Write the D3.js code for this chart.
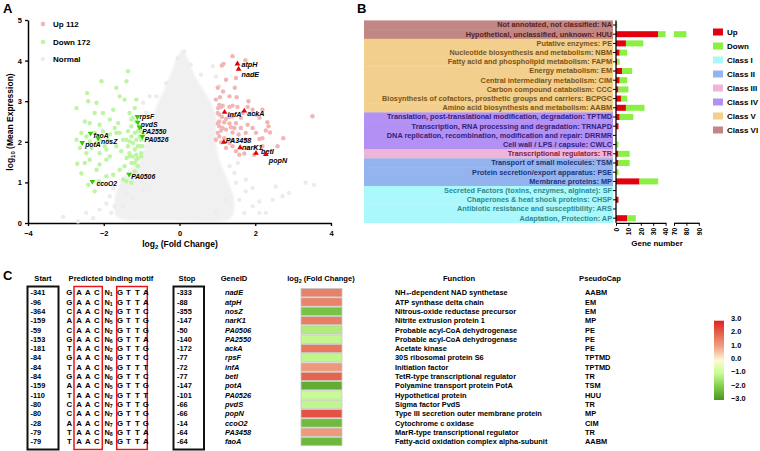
<!DOCTYPE html>
<html><head><meta charset="utf-8">
<script src="https://cdn.jsdelivr.net/npm/d3@7"></script>
<style>
body{margin:0;background:#fff}
svg{display:block;font-family:"Liberation Sans",Arial,sans-serif;font-weight:bold}
</style>
</head><body><svg id="c" width="760" height="451"></svg>
<script>
// ---------------- Panel A data (log2 FC, log10 mean expression) ----------------
const upPoints = [[1.40,4.11],[1.16,3.92],[1.12,3.88],[1.74,4.01],[1.49,3.57],[1.23,3.53],[1.01,3.33],[1.46,3.33],[1.15,3.24],[1.32,3.12],[1.51,3.10],[1.05,2.91],[1.09,2.86],[1.14,2.89],[1.02,2.83],[1.40,2.89],[1.53,2.86],[1.80,2.86],[1.93,2.79],[2.19,2.79],[1.82,3.00],[1.05,2.67],[1.12,2.61],[1.32,2.61],[1.40,2.63],[1.62,2.59],[2.11,2.59],[1.05,2.50],[1.18,2.48],[1.32,2.45],[1.49,2.46],[1.80,2.42],[2.32,2.48],[2.35,2.38],[1.05,2.38],[1.14,2.34],[1.23,2.30],[1.36,2.36],[1.62,2.34],[1.93,2.34],[2.28,2.28],[2.39,2.23],[1.10,2.28],[1.40,2.23],[1.75,2.22],[1.05,2.13],[1.18,2.09],[1.40,2.05],[1.75,2.05],[2.11,2.07],[2.74,2.09],[1.32,1.97],[1.40,1.89],[1.80,1.85],[2.00,1.87],[2.19,1.89],[1.71,1.71],[1.97,1.68],[3.51,2.63],[2.19,2.09],[0.96,3.04],[1.07,3.10],[1.01,2.71],[1.10,1.99],[1.23,1.85],[1.49,1.77],[1.58,1.68],[1.01,2.45],[2.02,2.67],[1.32,2.86],[1.67,2.71],[1.56,2.18],[2.02,2.22],[1.23,2.56],[1.01,2.22],[0.96,2.05],[1.45,2.34],[2.59,1.89]];
const downPoints = [[-2.72,2.83],[-2.44,3.20],[-2.41,3.00],[-2.06,3.49],[-2.19,2.96],[-1.67,3.33],[-1.36,3.74],[-1.40,3.49],[-1.58,3.12],[-1.75,2.79],[-2.02,2.71],[-2.24,2.71],[-2.50,2.50],[-2.37,2.46],[-2.11,2.42],[-1.84,2.55],[-1.62,2.46],[-2.59,2.22],[-2.46,2.13],[-2.02,2.26],[-1.84,2.18],[-1.67,2.22],[-2.19,1.97],[-1.97,1.89],[-2.32,1.85],[-2.46,1.72],[-2.11,1.72],[-1.93,1.81],[-2.50,1.48],[-2.37,1.56],[-2.11,1.44],[-1.84,1.64],[-1.67,1.89],[-1.54,1.77],[-1.40,2.05],[-1.36,2.26],[-1.27,2.38],[-1.23,2.59],[-1.32,2.71],[-1.18,2.83],[-1.14,3.04],[-1.45,3.04],[-1.45,1.40],[-1.32,1.64],[-1.18,1.81],[-1.14,2.05],[-1.23,1.97],[-1.27,1.48],[-1.14,1.56],[-1.05,1.89],[-1.01,1.72],[-1.10,1.40],[-1.18,1.27],[-1.58,1.31],[-1.75,1.19],[-1.93,1.15],[-2.19,1.31],[-2.41,0.94],[-2.24,0.78],[-2.13,1.03],[-2.70,1.46],[-2.59,1.22],[-1.40,1.03],[-1.49,1.07],[-1.27,0.99],[-1.18,2.22],[-1.10,2.26],[-1.05,2.13],[-1.01,2.05],[-0.98,1.89],[-1.01,1.64],[-1.14,1.68],[-1.32,1.72],[-1.36,1.89],[-1.49,2.05],[-1.58,2.22],[-1.71,2.34],[-1.89,2.05],[-2.24,2.22],[-2.37,2.01],[-2.11,2.05],[-1.93,1.56],[-1.27,2.13],[-1.23,1.64],[-1.10,1.89],[-1.18,1.48],[-1.05,2.38],[-1.14,2.50],[-1.27,2.55],[-1.01,2.26],[-1.32,2.01],[-1.40,1.60],[-1.10,1.60],[-0.96,2.18],[-2.72,2.05],[-2.63,1.85]];
const normalPoints = [[-3.07,0.15],[-2.68,0.04],[-2.46,0.25],[-2.11,0.33],[-1.93,0.48],[-1.80,0.25],[-2.28,0.12],[-1.84,0.66],[-1.75,0.86],[-1.71,0.41],[-1.23,0.62],[-0.96,0.82],[1.58,0.57],[1.71,0.25],[1.93,0.41],[2.11,0.53],[2.28,0.25],[2.46,0.57],[2.72,0.66],[2.89,0.74],[3.33,0.99],[3.55,0.94],[1.93,0.86],[1.75,0.78],[1.49,0.99],[1.45,1.23],[1.32,1.40],[1.54,1.48],[0.88,3.86],[0.57,3.65],[-0.35,3.45],[-0.61,3.12],[-0.88,2.71],[-1.40,0.74],[-1.49,0.41],[0.96,3.61],[1.05,3.37],[-0.96,2.96],[-0.79,3.12],[-1.10,1.23],[-1.01,1.03],[1.23,0.57],[0.96,0.25],[2.11,0.25],[1.75,1.07],[2.54,0.90],[0.12,4.22],[-0.05,4.05],[0.30,3.90]];
const normalCore = [[-1.67,0.16],[-1.71,0.57],[-1.62,0.90],[-1.40,1.23],[-1.05,1.56],[-0.88,2.05],[-0.75,2.46],[-0.61,2.87],[-0.44,3.20],[-0.26,3.61],[-0.09,4.02],[0.07,4.27],[0.19,4.11],[0.33,3.78],[0.48,3.49],[0.66,3.24],[0.83,2.96],[0.96,2.63],[0.96,2.05],[1.05,1.56],[1.23,1.15],[1.40,0.74],[1.45,0.33],[1.32,0.10],[-0.35,0.06],[-1.40,0.08]];
const hlGenes = ["atpH","nadE","infA","ackA","PA3458","narK1","betI","popN","rpsF","pvdS","PA2550","PA0526","PA0506","ccoO2","faoA","nosZ","potA"];
const hlFC =    [1.53,1.56,1.19,1.71,1.17,1.60,2.02,2.28,-1.11,-1.10,-1.06,-0.98,-1.33,-2.30,-2.35,-2.15,-2.57];
const hlMean =  [3.92,3.79,2.73,2.76,1.99,1.86,1.72,1.69,2.62,2.48,2.36,2.13,1.20,1.02,2.21,2.09,1.98];
const legendA = ["Up 112","Down 172","Normal"];
const xTicksA = [-4,-2,0,2,4];
const yTicksA = [0,1,2,3,4,5];

// ---------------- Panel B data ----------------
const catsB = ["Not annotated, not classified: NA","Hypothetical, unclassified, unknown: HUU","Putative enzymes: PE","Nucleotide biosynthesis and metabolism: NBM","Fatty acid and phospholipid metabolism: FAPM","Energy metabolism: EM","Central intermediary metabolism: CIM","Carbon compound catabolism: CCC","Biosynthesis of cofactors, prosthetic groups and carriers: BCPGC","Amino acid biosynthesis and metabolism: AABM","Translation, post-translational modification, degradation: TPTMD","Transcription, RNA processing and degradation: TRNAPD","DNA replication, recombination, modification and repair: DRRMR","Cell wall / LPS / capsule: CWLC","Transcriptional regulators: TR","Transport of small molecules: TSM","Protein secretion/export apparatus: PSE","Membrane proteins: MP","Secreted Factors (toxins, enzymes, alginate): SF","Chaperones & heat shock proteins: CHSP","Antibiotic resistance and susceptibility: ARS","Adaptation, Protection: AP"];
const classB = ["VI","VI","V","V","V","V","V","V","V","V","IV","IV","IV","IV","III","II","II","II","I","I","I","I"];
const upB =   [0,34,8,3,1,5,3,2,4,8,3,2,0,0,2,2,0,19,0,2,0,9];
const downB = [1,46,14,6,2,8,6,8,5,15,11,0,0,2,9,9,2,15,0,0,0,7];
const classNames = ["Class I","Class II","Class III","Class IV","Class V","Class VI"];
const ticksB1 = [0,10,20,30,40];
const ticksB2 = [70,80,90];

// ---------------- Panel C data ----------------
const geneC = ["nadE","atpH","nosZ","narK1","PA0506","PA2550","ackA","rpsF","infA","betI","potA","PA0526","pvdS","popN","ccoO2","PA3458","faoA"];
const startC = ["-341","-96","-364","-159","-59","-153","-181","-84","-84","-84","-159","-110","-80","-80","-28","-79","-79"];
const stopC = ["-333","-88","-355","-147","-50","-140","-172","-77","-72","-77","-147","-101","-66","-66","-14","-64","-64"];
const motifC = ["GAAC1GTTA","GAAC1GTTA","CAAC2GTTC","AAAC5GTTG","CAAC2GTTG","GAAC6GTTA","TAAC2GTTG","GAAC0GTTC","TAAC5GTTT","GAAC0GTTC","AAAC5GTTG","TAAC2GTTT","CAAC7GTTG","CAAC7GTTG","AAAC7GTTG","TAAC8GTTA","TAAC8GTTA"];
const funcC = ["NH₃-dependent NAD synthetase","ATP synthase delta chain","Nitrous-oxide reductase precursor","Nitrite extrusion protein 1","Probable acyl-CoA dehydrogenase","Probable acyl-CoA dehydrogenase","Acetate kinase","30S ribosomal protein S6","Initiation factor","TetR-type transcriptional regulator","Polyamine transport protein PotA","Hypothetical protein","Sigma factor PvdS","Type III secretion outer membrane protein","Cytochrome c oxidase","MarR-type transcriptional regulator","Fatty-acid oxidation complex alpha-subunit"];
const capC = ["AABM","EM","EM","MP","PE","PE","PE","TPTMD","TPTMD","TR","TSM","HUU","TR","MP","CIM","TR","AABM"];
const colorbarTicks = [3,2,1,0,-1,-2,-3];

// ================= drawing =================
const svg = d3.select("#c");
svg.append("rect").attr("width",760).attr("height",451).attr("fill","#fff");
const defs = svg.append("defs");
defs.append("filter").attr("id","soft").append("feGaussianBlur").attr("stdDeviation",1.3);

function panelLabel(t,x,y){svg.append("text").attr("x",x).attr("y",y).attr("font-size",13).attr("font-weight","bold").text(t);}
function subLabel(g,pre,sub,post,x,y,size,anchor,rot){
  const t=g.append("text").attr("font-size",size).attr("text-anchor",anchor||"middle");
  if(rot) t.attr("transform",`translate(${x},${y}) rotate(-90)`); else t.attr("x",x).attr("y",y);
  t.append("tspan").text(pre);
  t.append("tspan").attr("font-size",size*0.7).attr("dy",size*0.25).text(sub);
  t.append("tspan").attr("dy",-size*0.25).text(post);
  return t;
}

// ---------- Panel A ----------
panelLabel("A",3,13);
const gA = svg.append("g");
const xA = d3.scaleLinear().domain([-4,4]).range([28,331]);
const yA = d3.scaleLinear().domain([0,5]).range([223,20]);

gA.append("path").datum(normalCore)
  .attr("d",d3.line().x(d=>xA(d[0])).y(d=>yA(d[1])).curve(d3.curveCatmullRomClosed))
  .attr("fill","#f0f0f0").attr("filter","url(#soft)");

const axA = gA.append("g");
const xAxA = axA.append("g").attr("transform","translate(0,223)").call(d3.axisBottom(xA).tickValues(xTicksA).tickSize(3).tickSizeOuter(0).tickFormat(d3.format("d")));
const yAxA = axA.append("g").attr("transform","translate(28,0)").call(d3.axisLeft(yA).tickValues(yTicksA).tickSize(3).tickSizeOuter(0).tickFormat(d3.format("d")));
[xAxA,yAxA].forEach(a=>{a.select(".domain").attr("stroke-width",1.5);a.selectAll("line").attr("stroke-width",1.3);a.selectAll("text").attr("font-size",7.5).attr("font-weight","bold").attr("font-family","Liberation Sans, Arial");});
xAxA.selectAll("text").attr("dy","0.9em");

gA.selectAll(".np").data(normalPoints).join("circle").attr("cx",d=>xA(d[0])).attr("cy",d=>yA(d[1])).attr("r",2.2).attr("fill","#ececec");
gA.selectAll(".dp").data(downPoints).join("circle").attr("cx",d=>xA(d[0])).attr("cy",d=>yA(d[1])).attr("r",2.2).attr("fill","#bdf5a2");
gA.selectAll(".up").data(upPoints).join("circle").attr("cx",d=>xA(d[0])).attr("cy",d=>yA(d[1])).attr("r",2.2).attr("fill","#f2b5b5");

const tri = d3.symbol().type(d3.symbolTriangle).size(14);
const labelOff = {atpH:[4,1],nadE:[3,5],infA:[3,2],ackA:[3,3],PA3458:[2,-2],narK1:[2,0],betI:[5,-2],popN:[3,6],rpsF:[2,0],pvdS:[3,2],PA2550:[3,4],PA0526:[2,3],PA0506:[2,2],ccoO2:[4,2],faoA:[3,2],nosZ:[3,3],potA:[3,2]};
hlGenes.forEach((g,i)=>{
  const cx=xA(hlFC[i]), cy=yA(hlMean[i]), up=hlFC[i]>0;
  gA.append("path").attr("d",tri).attr("transform",`translate(${cx},${cy}) rotate(${up?0:180})`).attr("fill",up?"#e60000":"#33cc00");
  const o=labelOff[g];
  gA.append("text").attr("x",cx+o[0]).attr("y",cy+o[1]+2.5).attr("font-size",up?7.2:6.8).attr("font-style","italic").text(g);
});

const legColA=["#f2b5b5","#bdf5a2","#eeeeee"];
legendA.forEach((t,i)=>{
  const y=[24,42,59][i];
  gA.append("circle").attr("cx",43).attr("cy",y).attr("r",2.3).attr("fill",legColA[i]);
  gA.append("text").attr("x",53).attr("y",y+3).attr("font-size",8).text(t);
});
subLabel(gA,"log","10"," (Mean Expression)",13,122,8.5,"middle",true);
subLabel(gA,"log","2"," (Fold Change)",180,247,8.5,"middle",false);

// ---------- Panel B ----------
panelLabel("B",357,13);
const gB = svg.append("g");
const yB = d3.scaleBand().domain(catsB).range([20.4,222.8]);
const sB1 = d3.scaleLinear().domain([0,40]).range([616,665.6]);
const sB2 = d3.scaleLinear().domain([70,90]).range([674,698.8]);
const bandCol = {"I":"#abf8fc","II":"#93b4ee","III":"#eeb4da","IV":"#b390f3","V":"#f2cf8d","VI":"#c08785"};
const textCol = {"I":"#2f8a90","II":"#1c347a","III":"#7e2244","IV":"#35207a","V":"#7a5418","VI":"#5a2020"};
catsB.forEach((c,i)=>{
  gB.append("rect").attr("x",364).attr("y",yB(c)).attr("width",249).attr("height",yB.step()+0.3).attr("fill",bandCol[classB[i]]);
});
function seg(v0,v1,y,h,col){
  [[sB1,0,40],[sB2,70,90]].forEach(([s,a,b])=>{
    const lo=Math.max(v0,a), hi=Math.min(v1,b);
    if(hi>lo) gB.append("rect").attr("x",s(lo)).attr("y",y).attr("width",s(hi)-s(lo)).attr("height",h).attr("fill",col);
  });
}
catsB.forEach((c,i)=>{
  const h=6, y=yB(c)+yB.step()/2-h/2;
  seg(0,upB[i],y,h,"#e3000f");
  seg(upB[i],upB[i]+downB[i],y,h,"#8af043");
});
const yAxB = gB.append("g").attr("transform","translate(616,0)").call(d3.axisLeft(yB).tickSize(3).tickSizeOuter(0));
yAxB.select(".domain").attr("stroke-width",1.3).attr("d","M0,20.4V222.8");
yAxB.selectAll("line").attr("stroke-width",1);
yAxB.selectAll("text").attr("font-size",7.3).attr("font-weight","bold").attr("font-family","Liberation Sans, Arial").attr("x",-4)
  .attr("fill",(d,i)=>textCol[classB[i]]);
[[sB1,ticksB1],[sB2,ticksB2]].forEach(([s,t])=>{
  const a=gB.append("g").attr("transform","translate(0,222.8)").call(d3.axisBottom(s).tickValues(t).tickSize(3).tickSizeOuter(0));
  a.select(".domain").attr("stroke-width",1.3);
  a.selectAll("line").attr("stroke-width",1);
  a.selectAll("text").attr("font-size",6.8).attr("font-weight","bold").attr("font-family","Liberation Sans, Arial")
   .attr("transform","rotate(-90)").attr("x",-5).attr("y",0).attr("dy","0.35em").attr("text-anchor","end");
});
gB.append("text").attr("x",657).attr("y",246).attr("text-anchor","middle").attr("font-size",8).text("Gene number");
const legB = [["Up","#e3000f"],["Down","#8af043"]].concat(classNames.map((n,i)=>[n,bandCol[["I","II","III","IV","V","VI"][i]]]));
legB.forEach((d,i)=>{
  const y=32+i*14;
  gB.append("rect").attr("x",713).attr("y",y-3.5).attr("width",10).attr("height",7).attr("fill",d[1]);
  gB.append("text").attr("x",727).attr("y",y+3).attr("font-size",8).text(d[0]);
});

// ---------- Panel C ----------
panelLabel("C",3,280);
const gC = svg.append("g");
const yC = d3.scaleBand().domain(geneC).range([288.05,446.2]);
const rowY = g=>yC(g)+yC.step()/2;
const fs=7.4;
const heads=[["Start",43],["Predicted binding motif",111],["Stop",187],["GeneID",234],["Function",459],["PseudoCap",600]];
heads.forEach(h=>gC.append("text").attr("x",h[1]).attr("y",281).attr("text-anchor","middle").attr("font-size",7.6).text(h[0]));
subLabel(gC,"log","2"," (Fold Change)",321,281,7.6,"middle",false);

gC.append("rect").attr("x",27.5).attr("y",286.5).attr("width",31).attr("height",163).attr("fill","none").attr("stroke","#111").attr("stroke-width",2);
gC.append("rect").attr("x",173.5).attr("y",286.5).attr("width",30.5).attr("height",163).attr("fill","none").attr("stroke","#111").attr("stroke-width",2);
gC.append("rect").attr("x",74).attr("y",286.5).attr("width",28.3).attr("height",163).attr("fill","none").attr("stroke","#e8141c").attr("stroke-width",1.5);
gC.append("rect").attr("x",116.7).attr("y",286.5).attr("width",30.6).attr("height",163).attr("fill","none").attr("stroke","#e8141c").attr("stroke-width",1.5);

const letterX=[69.3,79,87.7,96.7,null,120,128.3,137.3,145.7];
const heatCol = d3.scaleLinear().domain([-3,-2,-1,0,1,2,3]).range(["#4c9324","#80cc48","#c8fb94","#fdfad2","#efa487","#e4664f","#e02020"]);
const fcOf = g=>hlFC[hlGenes.indexOf(g)];
geneC.forEach((g,i)=>{
  const y=rowY(g), by=y+2.6;
  gC.append("text").attr("x",30.5).attr("y",by).attr("font-size",fs).text(startC[i]);
  gC.append("text").attr("x",177).attr("y",by).attr("font-size",fs).text(stopC[i]);
  const m=motifC[i].split("");
  m.forEach((ch,k)=>{
    if(k===4){
      const t=gC.append("text").attr("x",104.5).attr("y",by).attr("font-size",fs);
      t.append("tspan").text("N");
      t.append("tspan").attr("font-size",5.2).attr("dy",1).text(ch);
    } else gC.append("text").attr("x",letterX[k]).attr("y",by).attr("text-anchor","middle").attr("font-size",fs+0.4).text(ch);
  });
  gC.append("text").attr("x",225).attr("y",by).attr("font-size",fs).attr("font-style","italic").attr("font-weight","bold").text(g);
  gC.append("rect").attr("x",301).attr("y",yC(g)+0.5).attr("width",41).attr("height",yC.step()-1).attr("fill",heatCol(fcOf(g))).attr("stroke","#c8c8c8").attr("stroke-width",0.8);
  gC.append("text").attr("x",395).attr("y",by).attr("font-size",fs).text(funcC[i]);
  gC.append("text").attr("x",585).attr("y",by).attr("font-size",fs).text(capC[i]);
});
const grad = defs.append("linearGradient").attr("id","cb").attr("x1",0).attr("y1",1).attr("x2",0).attr("y2",0);
d3.range(-3,3.01,0.5).forEach(v=>grad.append("stop").attr("offset",(v+3)/6).attr("stop-color",heatCol(v)));
const yCb = d3.scaleLinear().domain([-3,3]).range([400,320.7]);
gC.append("rect").attr("x",714).attr("y",yCb(3)).attr("width",10).attr("height",yCb(-3)-yCb(3)).attr("fill","url(#cb)");
const yCbLab = d3.scaleLinear().domain([3,-3]).range([318.3,398.3]);
colorbarTicks.forEach(v=>{
  gC.append("text").attr("x",731).attr("y",yCbLab(v)+2.6).attr("font-size",7.4).text(d3.format(".1f")(v));
});
</script></body></html>
